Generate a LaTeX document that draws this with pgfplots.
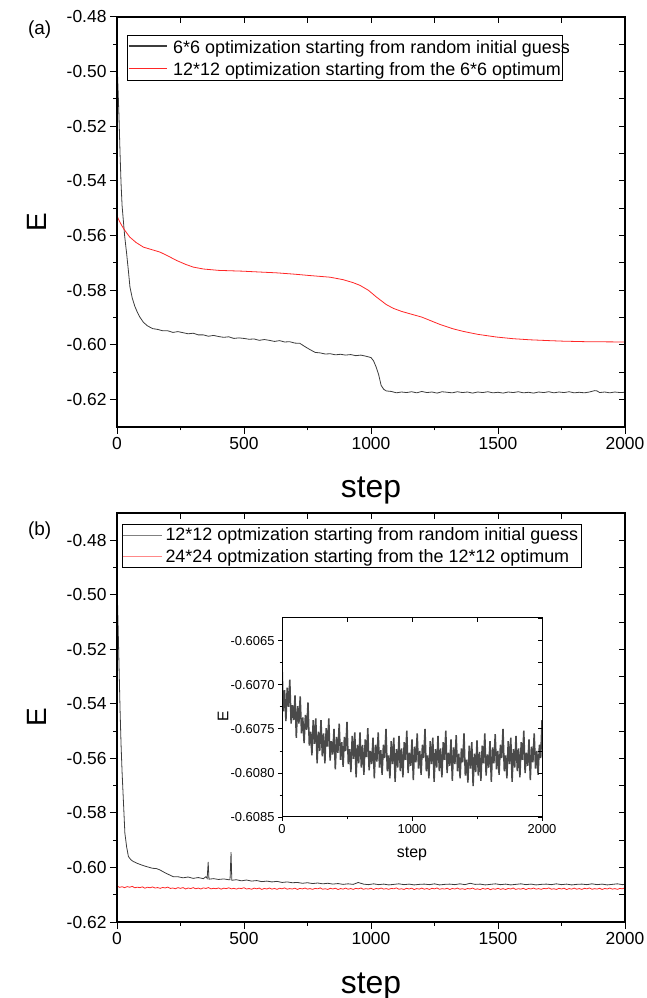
\documentclass[border=0pt]{standalone}
\usepackage{pgfplots}
\pgfplotsset{compat=1.18}
\usepackage{pgfplotstable}
\usepackage{fontspec}
\setmainfont{Liberation Sans}
\definecolor{cblack}{HTML}{3C3C3C}
\definecolor{cred}{HTML}{FF2626}
\definecolor{cinset}{HTML}{4A4A4A}

\pgfplotstableread{
s E
0 -0.4960
4 -0.5060
8 -0.5170
12 -0.5300
16 -0.5410
20 -0.5490
25 -0.5545
30 -0.5600
38 -0.5666
45 -0.5730
51 -0.5788
60 -0.5828
70 -0.5858
80 -0.5880
90 -0.5898
104 -0.5917
120 -0.5930
140 -0.5940
160 -0.5943
180 -0.5948
200 -0.5948
220 -0.5954
240 -0.5951
260 -0.5955
280 -0.5959
300 -0.5957
320 -0.5963
340 -0.5963
360 -0.5968
380 -0.5965
400 -0.5969
420 -0.5972
440 -0.5970
460 -0.5976
480 -0.5974
500 -0.5976
520 -0.5979
540 -0.5978
560 -0.5983
580 -0.5980
600 -0.5983
620 -0.5987
640 -0.5984
660 -0.5989
680 -0.5988
700 -0.5993
720 -0.5994
740 -0.6006
760 -0.6017
780 -0.6027
800 -0.6029
820 -0.6033
840 -0.6032
860 -0.6036
880 -0.6034
900 -0.6037
920 -0.6035
940 -0.6039
960 -0.6037
980 -0.6041
1000 -0.6046
1010 -0.6058
1020 -0.6080
1030 -0.6108
1040 -0.6148
1050 -0.6162
1060 -0.6168
1080 -0.6170
1100 -0.6175
1120 -0.6172
1140 -0.6174
1160 -0.6171
1180 -0.6175
1200 -0.6170
1220 -0.6174
1240 -0.6172
1260 -0.6176
1280 -0.6171
1300 -0.6173
1320 -0.6175
1340 -0.6171
1360 -0.6174
1380 -0.6172
1400 -0.6176
1420 -0.6172
1440 -0.6174
1460 -0.6171
1480 -0.6175
1500 -0.6173
1520 -0.6176
1540 -0.6172
1560 -0.6174
1580 -0.6171
1600 -0.6175
1620 -0.6173
1640 -0.6176
1660 -0.6172
1680 -0.6174
1700 -0.6171
1720 -0.6175
1740 -0.6172
1760 -0.6174
1780 -0.6171
1800 -0.6175
1820 -0.6173
1840 -0.6175
1860 -0.6172
1880 -0.6167
1890 -0.6168
1900 -0.6174
1920 -0.6172
1940 -0.6175
1960 -0.6172
1980 -0.6174
2000 -0.6173
}\blackA

\pgfplotstableread{
s E
0 -0.5528
10 -0.5548
20 -0.5565
31 -0.5581
50 -0.5605
75 -0.5625
104 -0.5642
140 -0.5652
169 -0.5660
200 -0.5674
235 -0.5691
270 -0.5705
300 -0.5715
340 -0.5722
400 -0.5727
496 -0.5730
560 -0.5733
628 -0.5736
700 -0.5741
760 -0.5746
839 -0.5752
890 -0.5761
930 -0.5772
957 -0.5782
990 -0.5800
1022 -0.5825
1060 -0.5852
1088 -0.5866
1120 -0.5877
1154 -0.5886
1200 -0.5898
1232 -0.5910
1272 -0.5925
1320 -0.5940
1362 -0.5950
1420 -0.5961
1495 -0.5971
1560 -0.5977
1626 -0.5981
1700 -0.5984
1756 -0.5986
1850 -0.5988
2000 -0.5989
}\redA

\pgfplotstableread{
s E
0 -0.4950
4 -0.5100
8 -0.5260
12 -0.5420
16 -0.5550
20 -0.5650
25 -0.5752
31 -0.5874
38 -0.5925
45 -0.5960
55 -0.5972
64 -0.5978
80 -0.5985
100 -0.5992
117 -0.5997
140 -0.6003
155 -0.6004
169 -0.6009
190 -0.6020
222 -0.6034
240 -0.6034
260 -0.6038
280 -0.6035
300 -0.6040
320 -0.6037
340 -0.6041
350 -0.6034
355 -0.6040
359 -0.5980
362 -0.6043
380 -0.6041
400 -0.6044
420 -0.6042
440 -0.6045
445 -0.6045
449 -0.5944
452 -0.6047
470 -0.6045
490 -0.6049
510 -0.6046
530 -0.6050
550 -0.6048
570 -0.6052
590 -0.6050
610 -0.6053
630 -0.6051
650 -0.6055
670 -0.6053
690 -0.6056
710 -0.6055
730 -0.6058
750 -0.6056
770 -0.6059
790 -0.6057
810 -0.6060
830 -0.6058
850 -0.6061
870 -0.6059
890 -0.6062
910 -0.6060
930 -0.6062
950 -0.6055
970 -0.6061
990 -0.6063
1010 -0.6060
1030 -0.6063
1050 -0.6061
1070 -0.6064
1090 -0.6062
1110 -0.6060
1130 -0.6063
1150 -0.6061
1170 -0.6064
1190 -0.6062
1210 -0.6061
1230 -0.6063
1250 -0.6060
1270 -0.6064
1290 -0.6062
1310 -0.6061
1330 -0.6063
1350 -0.6060
1370 -0.6063
1390 -0.6058
1410 -0.6062
1430 -0.6061
1450 -0.6064
1470 -0.6062
1490 -0.6060
1510 -0.6063
1530 -0.6061
1550 -0.6064
1570 -0.6062
1590 -0.6060
1610 -0.6063
1630 -0.6061
1650 -0.6064
1670 -0.6062
1690 -0.6061
1710 -0.6063
1730 -0.6060
1750 -0.6063
1770 -0.6061
1790 -0.6064
1810 -0.6062
1830 -0.6061
1850 -0.6063
1870 -0.6060
1890 -0.6063
1910 -0.6061
1930 -0.6064
1950 -0.6062
1970 -0.6060
1990 -0.6063
2000 -0.6062
}\blackB

\pgfplotstableread{
s E
0 -0.60675
10 -0.60730
20 -0.60706
30 -0.60741
40 -0.60703
50 -0.60725
60 -0.60694
70 -0.60744
80 -0.60723
90 -0.60740
100 -0.60712
110 -0.60760
120 -0.60724
130 -0.60744
140 -0.60713
150 -0.60755
160 -0.60737
170 -0.60766
180 -0.60734
190 -0.60751
200 -0.60720
210 -0.60769
220 -0.60753
230 -0.60780
240 -0.60740
250 -0.60767
260 -0.60738
270 -0.60789
280 -0.60753
290 -0.60775
300 -0.60740
310 -0.60781
320 -0.60755
330 -0.60789
340 -0.60749
350 -0.60770
360 -0.60738
370 -0.60786
380 -0.60764
390 -0.60779
400 -0.60750
410 -0.60796
420 -0.60759
430 -0.60777
440 -0.60744
450 -0.60785
460 -0.60765
470 -0.60793
480 -0.60759
490 -0.60775
500 -0.60742
510 -0.60790
520 -0.60773
530 -0.60799
540 -0.60758
550 -0.60784
560 -0.60754
570 -0.60805
580 -0.60768
590 -0.60789
600 -0.60754
610 -0.60794
620 -0.60768
630 -0.60802
640 -0.60762
650 -0.60782
660 -0.60749
670 -0.60797
680 -0.60775
690 -0.60790
700 -0.60760
710 -0.60806
720 -0.60768
730 -0.60787
740 -0.60754
750 -0.60794
760 -0.60774
770 -0.60802
780 -0.60768
790 -0.60783
800 -0.60750
810 -0.60798
820 -0.60780
830 -0.60806
840 -0.60764
850 -0.60790
860 -0.60760
870 -0.60810
880 -0.60773
890 -0.60794
900 -0.60758
910 -0.60798
920 -0.60772
930 -0.60805
940 -0.60765
950 -0.60785
960 -0.60752
970 -0.60800
980 -0.60777
990 -0.60792
1000 -0.60762
1010 -0.60808
1020 -0.60770
1030 -0.60788
1040 -0.60755
1050 -0.60795
1060 -0.60775
1070 -0.60802
1080 -0.60768
1090 -0.60783
1100 -0.60750
1110 -0.60798
1120 -0.60780
1130 -0.60806
1140 -0.60764
1150 -0.60790
1160 -0.60760
1170 -0.60810
1180 -0.60773
1190 -0.60794
1200 -0.60758
1210 -0.60798
1220 -0.60772
1230 -0.60805
1240 -0.60765
1250 -0.60785
1260 -0.60752
1270 -0.60800
1280 -0.60777
1290 -0.60792
1300 -0.60762
1310 -0.60809
1320 -0.60771
1330 -0.60790
1340 -0.60757
1350 -0.60798
1360 -0.60778
1370 -0.60806
1380 -0.60772
1390 -0.60788
1400 -0.60755
1410 -0.60803
1420 -0.60785
1430 -0.60811
1440 -0.60769
1450 -0.60795
1460 -0.60765
1470 -0.60815
1480 -0.60778
1490 -0.60799
1500 -0.60763
1510 -0.60803
1520 -0.60776
1530 -0.60809
1540 -0.60769
1550 -0.60789
1560 -0.60755
1570 -0.60803
1580 -0.60779
1590 -0.60794
1600 -0.60764
1610 -0.60810
1620 -0.60771
1630 -0.60789
1640 -0.60756
1650 -0.60796
1660 -0.60775
1670 -0.60802
1680 -0.60768
1690 -0.60783
1700 -0.60750
1710 -0.60798
1720 -0.60780
1730 -0.60806
1740 -0.60764
1750 -0.60790
1760 -0.60760
1770 -0.60810
1780 -0.60773
1790 -0.60794
1800 -0.60758
1810 -0.60798
1820 -0.60772
1830 -0.60805
1840 -0.60765
1850 -0.60785
1860 -0.60752
1870 -0.60800
1880 -0.60777
1890 -0.60792
1900 -0.60762
1910 -0.60808
1920 -0.60770
1930 -0.60788
1940 -0.60755
1950 -0.60795
1960 -0.60775
1970 -0.60802
1980 -0.60768
1990 -0.60783
2000 -0.60740
}\redB

\pgfplotsset{
  common/.style={
    scale only axis, anchor=south west,
    xmin=0, xmax=2000,
    scaled x ticks=false, scaled y ticks=false,
    /pgf/number format/assume math mode=true,
    axis line style={line width=1.2bp, black},
    clip=true,
  },
  mainax/.style={
    common,
    width=508bp,
    xtick={0,500,1000,1500,2000}, minor x tick num=1,
    ytick={-0.62,-0.60,-0.58,-0.56,-0.54,-0.52,-0.50,-0.48}, minor y tick num=1,
    tick align=outside, xtick pos=left, ytick pos=left,
    major tick length=7bp, minor tick length=3.5bp,
    tick style={line width=1bp, black},
    tick label style={font=\fontsize{17.5}{20}\selectfont},
    xticklabel style={/pgf/number format/.cd, fixed, precision=0, 1000 sep={}},
    yticklabel style={/pgf/number format/.cd, fixed, fixed zerofill, precision=2},
    ylabel={E},
    ylabel style={font=\fontsize{28}{30}\selectfont, at={(axis description cs:-0.177,0.5)}, anchor=north, inner sep=0pt},
    legend cell align=left,
    legend image code/.code={\draw[#1] (1bp,0bp) -- (40bp,0bp);},
  },
  innerticks/.style={
    common,
    width=508bp,
    xtick={0,250,...,2000},
    tick align=inside, xtick pos=right, ytick pos=right,
    major tick length=6bp,
    tick style={line width=1bp, black},
    xticklabels={}, yticklabels={},
  },
}

\begin{document}
\begin{tikzpicture}
\path[use as bounding box] (0bp,0bp) rectangle (647bp,998bp);

% ---------- panel (a)
\begin{axis}[mainax,
  at={(117bp,571bp)}, height=410bp,
  ymin=-0.63, ymax=-0.48,
  xlabel={step},
  xlabel style={font=\fontsize{32}{34}\selectfont, at={(axis description cs:0.5,-0.171)}, anchor=base, inner sep=0pt},
]
\addplot[cblack, line width=0.8bp] table[x=s, y=E] {\blackA};
\addplot[cred, line width=0.8bp] table[x=s, y=E] {\redA};
\end{axis}
\begin{axis}[innerticks, at={(117bp,571bp)}, height=410bp, ymin=-0.63, ymax=-0.48,
  ytick={-0.62,-0.61,...,-0.48}]
\end{axis}
% legend of panel (a)
\draw[black, line width=0.9bp, fill=white] (127bp,918bp) rectangle (562bp,963bp);
\draw[cblack, line width=1.1bp] (128.5bp,952bp) -- (167bp,952bp);
\draw[cred, line width=1.1bp] (128.5bp,929.5bp) -- (167bp,929.5bp);
\node[anchor=base west, inner sep=0pt, font=\fontsize{18}{21}\selectfont] at (173bp,944.7bp) {6*6 optimization starting from random initial guess};
\node[anchor=base west, inner sep=0pt, font=\fontsize{18}{21}\selectfont] at (173bp,922.3bp) {12*12 optimization starting from the 6*6 optimum};
\node[font=\fontsize{19}{21}\selectfont] at (39.7bp,968bp) {(a)};

% ---------- panel (b)
\begin{axis}[mainax,
  at={(117bp,76bp)}, height=409bp,
  ymin=-0.62, ymax=-0.47,
  xlabel={step},
  xlabel style={font=\fontsize{32}{34}\selectfont, at={(axis description cs:0.5,-0.1736)}, anchor=base, inner sep=0pt},
  legend style={at={(axis description cs:0.0098,0.973)}, anchor=north west,
    draw=black, line width=0.9bp, fill=white, inner sep=0bp,
    font=\fontsize{18}{21}\selectfont,
    nodes={inner xsep=3bp, inner ysep=3.4bp}, row sep=0bp, column sep=0bp},
]
\addplot[cblack, line width=0.8bp, forget plot] table[x=s, y=E] {\blackB};
\addplot[cred, line width=0.8bp, forget plot] table[x=s, y=E] {\redB};
\addlegendimage{color=gray, line width=1.1bp}
\addlegendentry{12*12 optmization starting from random initial guess}
\addlegendimage{color=cred!55, line width=1.1bp}
\addlegendentry{24*24 optmization starting from the 12*12 optimum}
\end{axis}
\begin{axis}[innerticks, at={(117bp,76bp)}, height=409bp, ymin=-0.62, ymax=-0.47,
  ytick={-0.62,-0.61,...,-0.47}]
\end{axis}
\node[font=\fontsize{19}{21}\selectfont] at (39.7bp,467bp) {(b)};

% ---------- inset
\begin{axis}[common,
  at={(282bp,181bp)}, width=260bp, height=199bp,
  ymin=-0.6085, ymax=-0.60624,
  axis background/.style={fill=white},
  xtick={0,1000,2000}, minor x tick num=1,
  ytick={-0.6085,-0.6080,-0.6075,-0.6070,-0.6065}, minor y tick num=1,
  tick align=outside, xtick pos=left, ytick pos=left,
  major tick length=4bp, minor tick length=2.5bp,
  tick style={line width=0.9bp, black},
  axis line style={line width=1bp, black},
  tick label style={font=\fontsize{13}{15}\selectfont},
  xticklabel style={/pgf/number format/.cd, fixed, precision=0, 1000 sep={}},
  yticklabel style={/pgf/number format/.cd, fixed, fixed zerofill, precision=4},
  xlabel={step},
  xlabel style={font=\fontsize{16}{18}\selectfont, at={(axis description cs:0.5,-0.2025)}, anchor=base, inner sep=0pt},
  ylabel={E},
  ylabel style={font=\fontsize{15.5}{17}\selectfont, at={(axis description cs:-0.248,0.504)}, anchor=north, inner sep=0pt},
]
\addplot[cinset, line width=1.5bp, line join=bevel] table[x=s, y=E] {\redB};
\end{axis}
\begin{axis}[common, at={(282bp,181bp)}, width=260bp, height=199bp,
  ymin=-0.6085, ymax=-0.60624,
  xtick={0,500,...,2000},
  ytick={-0.6085,-0.60825,...,-0.6063},
  tick align=inside, xtick pos=right, ytick pos=right,
  major tick length=4bp,
  tick style={line width=0.9bp, black},
  axis line style={line width=1bp, black},
  xticklabels={}, yticklabels={}]
\end{axis}
\end{tikzpicture}
\end{document}
